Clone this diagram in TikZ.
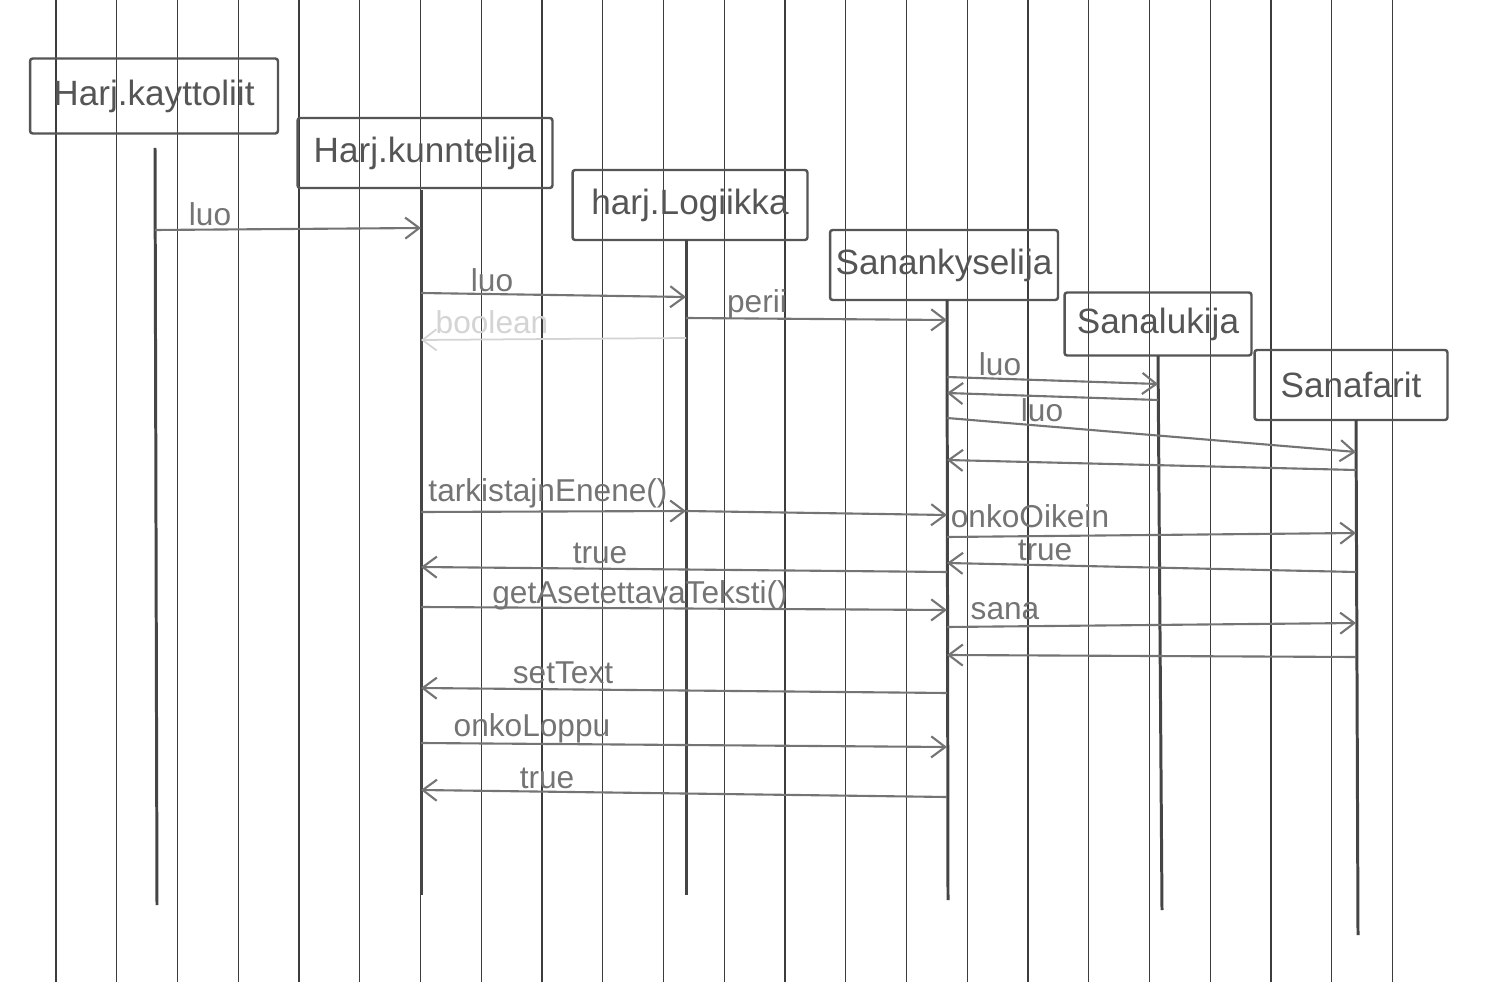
\documentclass[tikz,border=0pt]{standalone}
\usepackage{fontspec}
\setmainfont{Liberation Sans}
\usetikzlibrary{arrows.meta}
\definecolor{rulecol}{HTML}{3C3C3C}
\definecolor{lifecol}{HTML}{454545}
\definecolor{boxcol}{HTML}{555555}
\definecolor{msgcol}{HTML}{747474}
\definecolor{fadecol}{HTML}{D4D4D4}
\tikzset{
  rule/.style={draw=rulecol, line width=0.6pt},
  objbox/.style={draw=boxcol, line width=1.4pt, rounded corners=1.5pt, inner sep=0pt,
    text=boxcol, font=\fontsize{20}{24}\selectfont},
  life/.style={draw=lifecol, line width=1.7pt},
  msg/.style={draw=msgcol, line width=1.2pt, -{Straight Barb[length=8pt,width=12pt,line width=1.2pt]}},
  ret/.style={msg},
  faded/.style={draw=fadecol, line width=1pt, -{Straight Barb[length=8pt,width=12pt]}},
  lbl/.style={text=msgcol, font=\fontsize{18}{22}\selectfont, inner sep=1pt},
  fadelbl/.style={lbl, text=fadecol}
}
\begin{document}
\begin{tikzpicture}[x=0.02cm, y=-0.02cm]
  \useasboundingbox (0,0) rectangle (1500,982);
  \fill[white] (0,0) rectangle (1500,982);

  % ruled paper
  \foreach \k in {0,...,22}
    \draw[rule] ({56+60.75*\k},0) -- ({56+60.75*\k},982);

  % objects
  \node[objbox, minimum width=4.96cm, minimum height=1.5cm] (kay) at (154,96) {Harj.kayttoliit};
  \node[objbox, minimum width=5.1cm, minimum height=1.4cm] (kun) at (425,153) {Harj.kunntelija};
  \node[objbox, minimum width=4.7cm, minimum height=1.4cm] (log) at (690,205) {harj.Logiikka};
  \node[objbox, minimum width=4.56cm, minimum height=1.4cm] (syk) at (944,265) {Sanankyselija};
  \node[objbox, minimum width=3.74cm, minimum height=1.26cm] (luk) at (1158,324) {Sanalukija};
  \node[objbox, minimum width=3.86cm, minimum height=1.4cm] (par) at (1351,385) {Sanafarit};

  % lifelines
  \coordinate (kayT) at (155,148);  \coordinate (kayB) at (157,905);
  \coordinate (kunT) at (421,190);  \coordinate (kunB) at (421,895);
  \coordinate (logT) at (686,240);  \coordinate (logB) at (686,895);
  \coordinate (sykT) at (947,300);  \coordinate (sykB) at (948,900);
  \coordinate (lukT) at (1158,356); \coordinate (lukB) at (1162,910);
  \coordinate (parT) at (1356,420); \coordinate (parB) at (1358,935);
  \foreach \o in {kay,kun,log,syk,luk,par}
    \draw[life] (\o T) -- (\o B);

  % messages
  \draw[msg] (kayT |- 0,230) -- (kunT |- 0,228);
  \node[lbl] (l1) at (210,214) {luo};

  \draw[msg] (kunT |- 0,293) -- (logT |- 0,297);
  \node[lbl] (l2) at (492,280) {luo};
  \draw[faded] (logT |- 0,338) -- (kunT |- 0,340);
  \node[fadelbl] (l2b) at (492,322) {boolean};

  \draw[msg] (logT |- 0,318) -- (sykT |- 0,320);
  \node[lbl] (l3) at (757,304) {perii};

  \draw[msg] (sykT |- 0,377) -- (lukT |- 0,384);
  \node[lbl] (l4) at (1000,364) {luo};
  \draw[ret] (lukT |- 0,400) -- (sykT |- 0,393);

  \draw[msg] (sykT |- 0,418) -- (parT |- 0,452);
  \node[lbl] (l5) at (1042,410) {luo};
  \draw[ret] (parT |- 0,470) -- (sykT |- 0,460);

  \draw[msg] (kunT |- 0,512) -- (logT |- 0,511);
  \draw[msg] (logT |- 0,511) -- (sykT |- 0,515);
  \node[lbl] (l6) at (548,493) {tarkistajnEnene()};

  \draw[msg] (sykT |- 0,537) -- (parT |- 0,533);
  \node[lbl] (l7) at (1030,516) {onkoOikein};
  \draw[ret] (parT |- 0,572) -- (sykT |- 0,563);
  \node[lbl] (l8) at (1045,550) {true};

  \draw[ret] (sykT |- 0,572) -- (kunT |- 0,567);
  \node[lbl] (l9) at (600,553) {true};

  \draw[msg] (kunT |- 0,607) -- (sykT |- 0,610);
  \node[lbl] (l10) at (640,595) {getAsetettavaTeksti()};

  \draw[msg] (sykT |- 0,627) -- (parT |- 0,623);
  \node[lbl] (l11) at (1005,611) {sana};
  \draw[ret] (parT |- 0,657) -- (sykT |- 0,655);

  \draw[ret] (sykT |- 0,693) -- (kunT |- 0,688);
  \node[lbl] (l12) at (563,673) {setText};

  \draw[msg] (kunT |- 0,743) -- (sykT |- 0,747);
  \node[lbl] (l13) at (532,728) {onkoLoppu};

  \draw[ret] (sykT |- 0,797) -- (kunT |- 0,790);
  \node[lbl] (l14) at (547,778) {true};
\end{tikzpicture}
\end{document}
